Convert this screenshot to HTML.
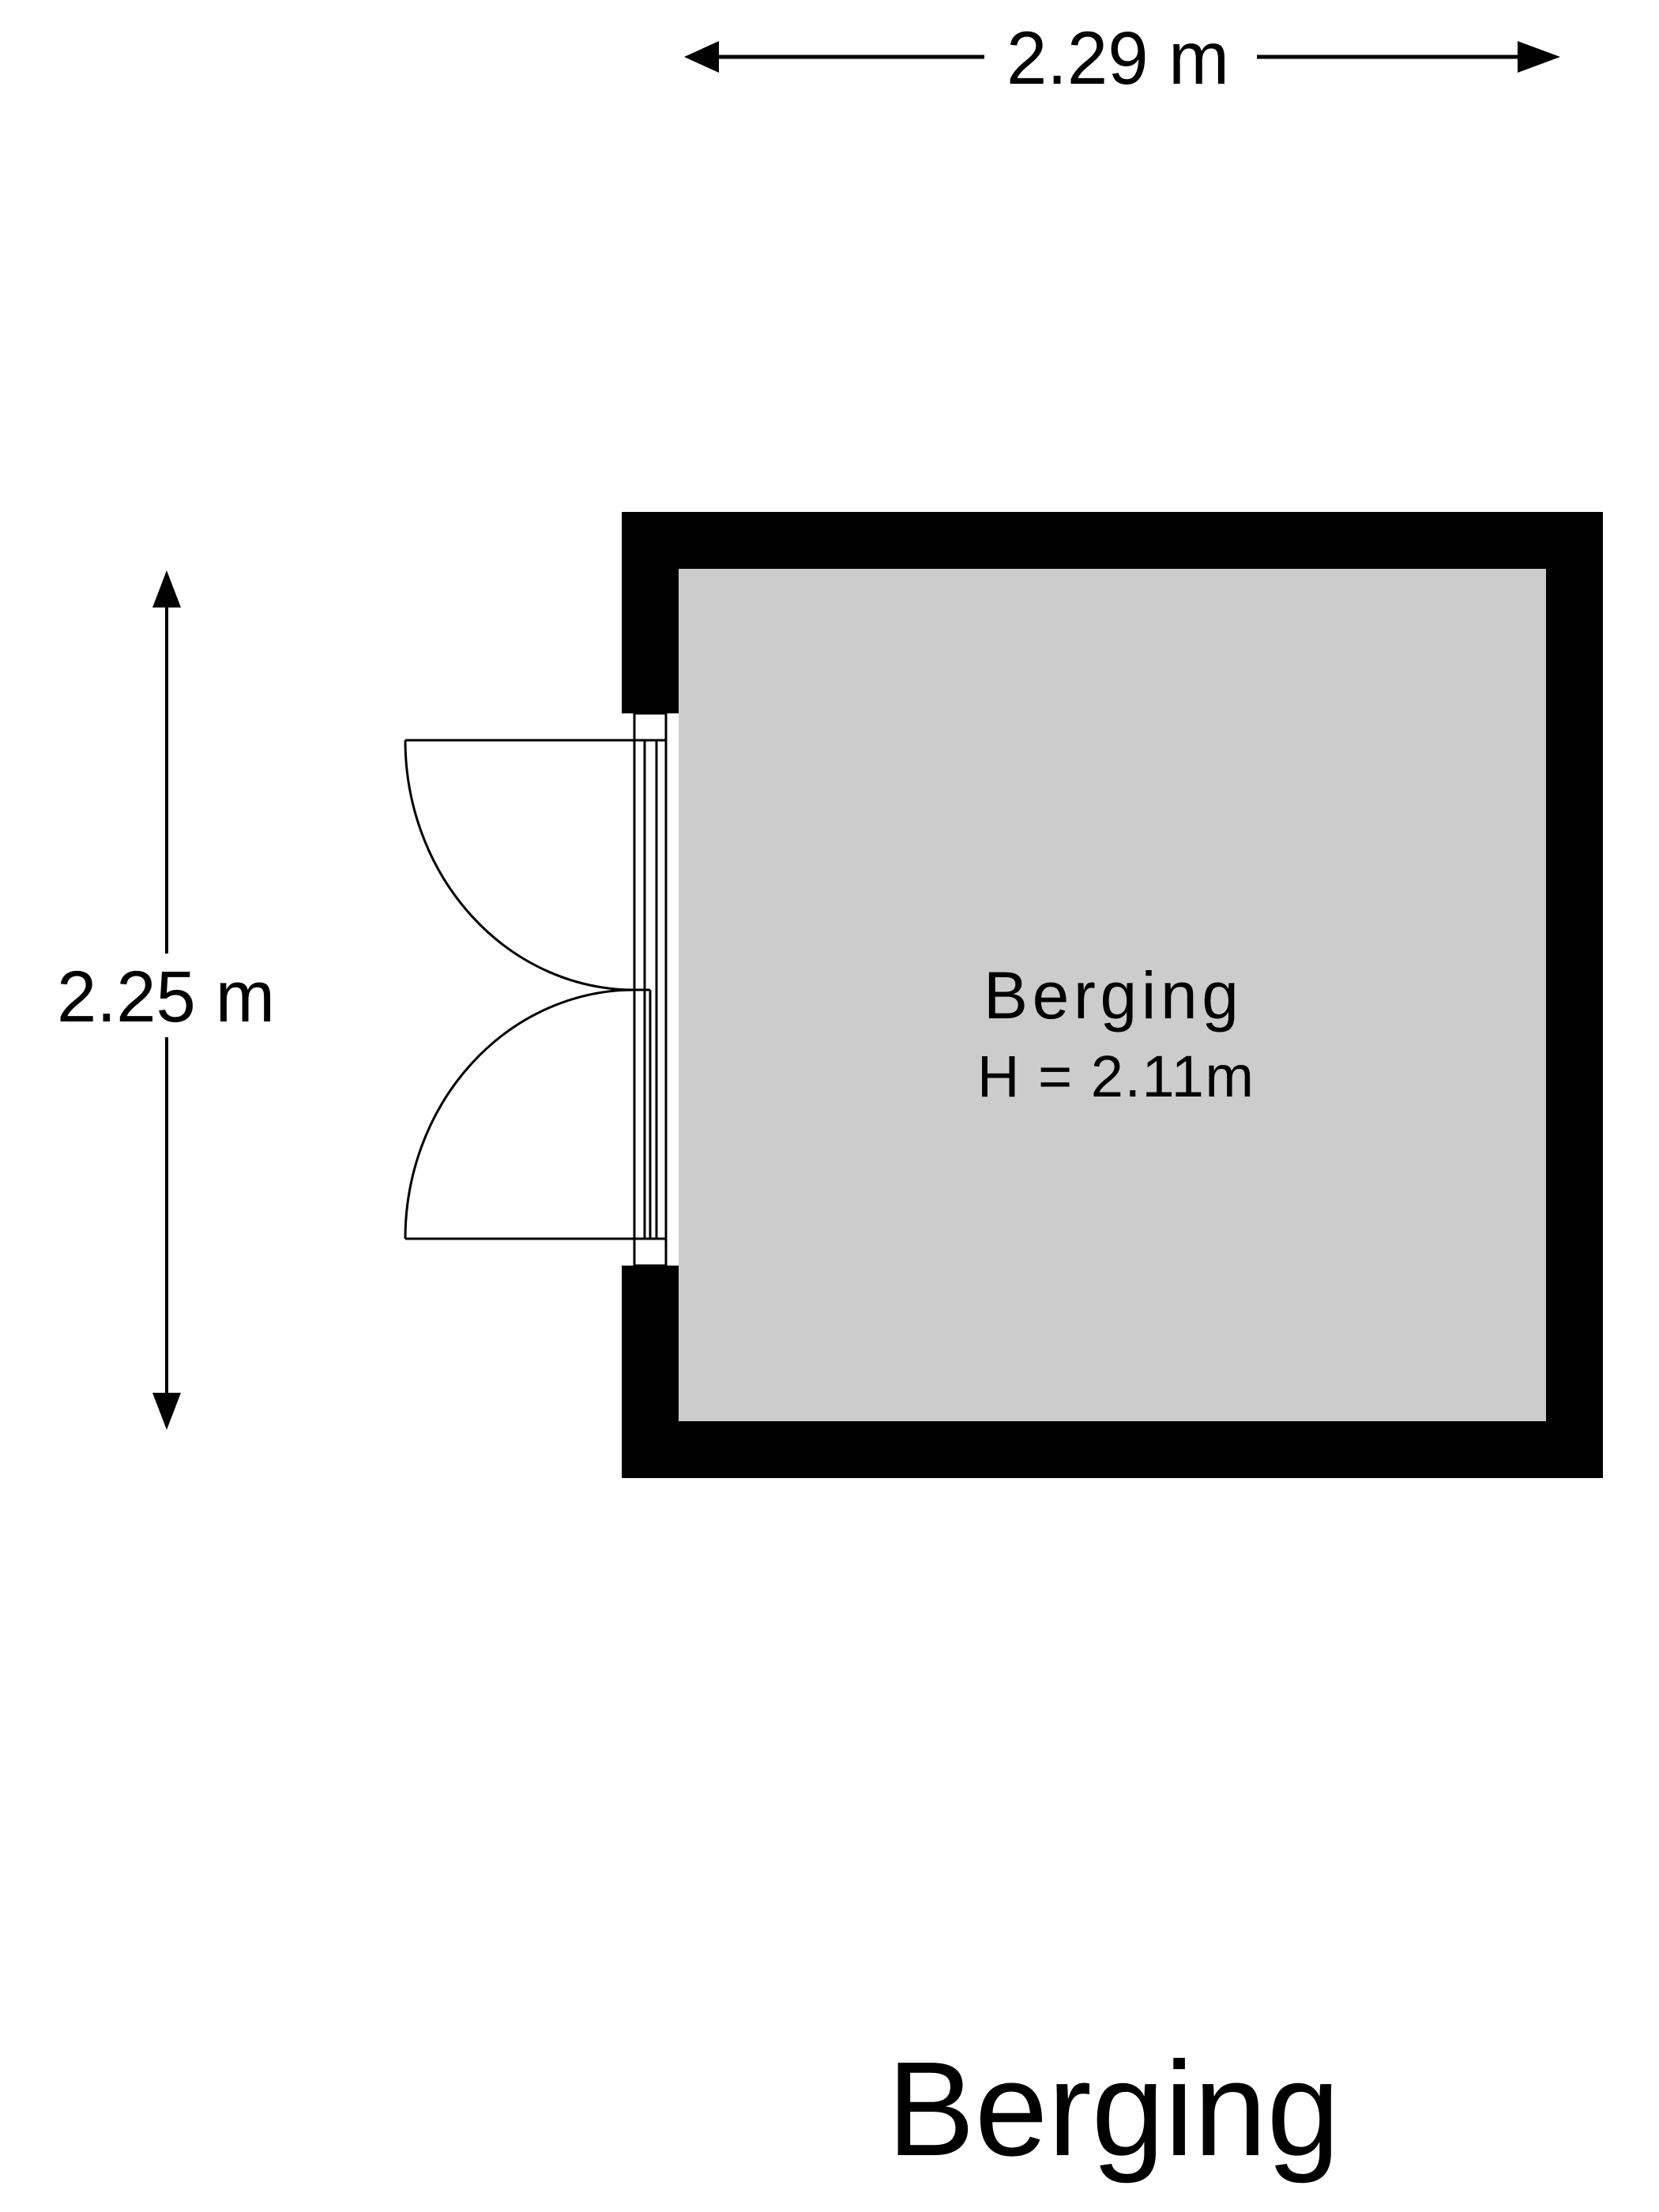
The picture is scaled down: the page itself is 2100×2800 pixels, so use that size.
<!DOCTYPE html>
<html><head><meta charset="utf-8"><style>
html,body{margin:0;padding:0;background:#fff}
svg{display:block}
text{font-family:"Liberation Sans",sans-serif;fill:#000}
</style></head><body>
<svg width="2100" height="2800" viewBox="0 0 2100 2800" xmlns="http://www.w3.org/2000/svg">
<rect x="0" y="0" width="2100" height="2800" fill="#fff"/>
<!-- walls -->
<rect x="787" y="648" width="1242" height="1223" fill="#000"/>
<rect x="859" y="720" width="1098" height="1079" fill="#cccccc"/>
<!-- opening -->
<rect x="786" y="903" width="73" height="699" fill="#fff"/>
<!-- door frame -->
<g fill="none" stroke="#000" stroke-width="3">
<rect x="803" y="903" width="40" height="34" fill="#fff"/>
<rect x="803" y="1568" width="40" height="34" fill="#fff"/>
<line x1="803" y1="937" x2="803" y2="1568"/>
<line x1="816" y1="937" x2="816" y2="1568"/>
<line x1="831" y1="937" x2="831" y2="1568"/>
<line x1="843" y1="937" x2="843" y2="1568"/>
<line x1="823" y1="1253" x2="823" y2="1568"/>
<line x1="803" y1="1253" x2="823" y2="1253"/>
<line x1="513" y1="937" x2="843" y2="937"/>
<line x1="513" y1="1568" x2="843" y2="1568"/>
<path d="M513,937 A290,316 0 0 0 803,1253"/>
<path d="M513,1568 A290,315 0 0 1 803,1253"/>
</g>
<!-- top dimension -->
<g stroke="#000" stroke-width="5">
<line x1="900" y1="72" x2="1246" y2="72"/>
<line x1="1591" y1="72" x2="1940" y2="72"/>
</g>
<polygon points="866,72 910,52 910,92" fill="#000"/>
<polygon points="1975,72 1921,52 1921,92" fill="#000"/>
<text x="1274" y="106" font-size="95" textLength="282" lengthAdjust="spacingAndGlyphs">2.29 m</text>
<!-- left dimension -->
<g stroke="#000" stroke-width="4">
<line x1="211" y1="760" x2="211" y2="1207"/>
<line x1="211" y1="1313" x2="211" y2="1780"/>
</g>
<polygon points="211,722 193,769 229,769" fill="#000"/>
<polygon points="211,1810 193,1763 229,1763" fill="#000"/>
<text x="72" y="1293" font-size="92" textLength="276" lengthAdjust="spacingAndGlyphs">2.25 m</text>
<!-- room label -->
<text x="1245" y="1289" font-size="84" textLength="323" lengthAdjust="spacing">Berging</text>
<text x="1237" y="1388" font-size="74" textLength="350" lengthAdjust="spacing">H = 2.11m</text>
<!-- title -->
<text x="1123" y="2728" font-size="170" textLength="573" lengthAdjust="spacingAndGlyphs">Berging</text>
</svg>
</body></html>
